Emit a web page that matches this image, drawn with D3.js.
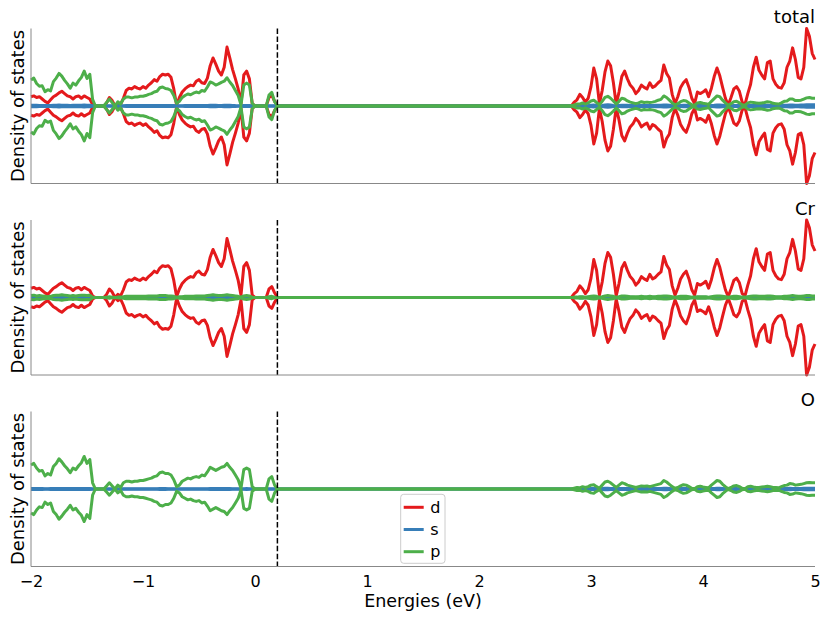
<!DOCTYPE html>
<html>
<head>
<meta charset="utf-8">
<script src="https://cdn.jsdelivr.net/npm/d3@7"></script>
<style>
body { margin: 0; background: #fff; }
svg { font-family: "DejaVu Sans", sans-serif; }
</style>
</head>
<body>
<div id="chart"></div>
<script>

// Energy grid (eV), valence band side and conduction band side.
const energyLeft = [
	-2.000,-1.975,-1.950,-1.925,-1.900,-1.875,-1.850,-1.825,-1.800,-1.775,
	-1.750,-1.725,-1.700,-1.675,-1.650,-1.625,-1.600,-1.575,-1.550,-1.525,
	-1.500,-1.475,-1.450,-1.425,-1.400,-1.375,-1.350,-1.325,-1.300,-1.275,
	-1.250,-1.225,-1.200,-1.175,-1.150,-1.125,-1.100,-1.075,-1.050,-1.025,
	-1.000,-0.975,-0.950,-0.925,-0.900,-0.875,-0.850,-0.825,-0.800,-0.775,
	-0.750,-0.725,-0.700,-0.675,-0.650,-0.625,-0.600,-0.575,-0.550,-0.525,
	-0.500,-0.475,-0.450,-0.425,-0.400,-0.375,-0.350,-0.325,-0.300,-0.275,
	-0.250,-0.225,-0.200,-0.175,-0.150,-0.125,-0.100,-0.075,-0.050,-0.025,
	0.000,0.025,0.050,0.075,0.100,0.125,0.150,0.175,0.200,0.225,0.250];
const energyRight = [
	2.825,2.850,2.875,2.900,2.925,2.950,2.975,
	3.000,3.025,3.050,3.075,3.100,3.125,3.150,3.175,3.200,3.225,
	3.250,3.275,3.300,3.325,3.350,3.375,3.400,3.425,3.450,3.475,
	3.500,3.525,3.550,3.575,3.600,3.625,3.650,3.675,3.700,3.725,
	3.750,3.775,3.800,3.825,3.850,3.875,3.900,3.925,3.950,3.975,
	4.000,4.025,4.050,4.075,4.100,4.125,4.150,4.175,4.200,4.225,
	4.250,4.275,4.300,4.325,4.350,4.375,4.400,4.425,4.450,4.475,
	4.500,4.525,4.550,4.575,4.600,4.625,4.650,4.675,4.700,4.725,
	4.750,4.775,4.800,4.825,4.850,4.875,4.900,4.925,4.950,4.975,
	5.000];

// Cr d states
const dCrLeft = [
	1.2,1.3,1.1,1.2,0.9,0.6,0.4,0.8,1.2,1.4,
	1.7,1.9,1.6,1.3,1.2,0.9,1.2,1.3,1.0,1.3,
	1.1,0.9,0.2,0,0,0,0,0.4,1.1,0.7,
	0,0.4,0.2,1.0,2.0,2.3,2.2,2.5,2.3,2.2,
	2.5,2.3,2.7,3.0,3.4,3.2,3.8,4.1,4.0,4.1,
	3.7,2.2,0.1,1.1,1.8,2.2,2.5,2.7,2.6,3.2,
	3.4,3.0,2.9,3.6,5.2,6.2,5.4,4.5,4.0,5.0,
	7.6,6.2,4.7,3.5,2.2,0.3,4.0,4.5,3.5,0.3,
	0,0,0,0,0,1.1,1.4,0.6,0,0,0];
const dCrRight = [
	0,0.5,0.8,1.5,1.1,0.5,1.0,
	2.5,4.9,3.5,0.3,2.0,4.4,5.8,5.2,3.0,0.2,
	1.8,3.8,4.5,3.5,2.7,2.3,1.6,2.0,2.7,2.4,
	2.2,3.0,2.4,2.6,3.0,3.3,5.3,4.2,3.6,1.5,
	0.3,1.2,2.4,3.0,3.4,2.4,1.0,0.3,1.8,1.6,
	1.8,2.1,1.2,2.3,3.8,4.9,3.9,2.4,1.0,0.1,
	1.1,2.2,2.5,1.9,0.5,0.2,1.6,2.8,5.0,6.3,
	4.6,4.0,3.5,5.6,5.8,3.5,2.8,2.4,2.3,3.0,
	5.0,5.8,7.5,6.0,3.7,3.5,5.0,10.0,9.0,6.8,
	6.0];

// O p states
const pOLeft = [
	3.1,3.3,2.7,2.3,2.4,1.7,2.0,1.8,2.9,3.3,
	3.9,3.5,3.0,2.6,2.1,2.7,2.5,3.0,3.4,4.2,
	3.3,3.8,0.8,0,0,0,0,0.4,0.8,0.4,
	0,0.5,0.2,0.8,1.0,1.0,0.9,1.0,1.0,1.1,
	1.1,1.2,1.3,1.4,1.6,1.7,2.1,2.2,2.0,2.0,
	1.8,1.2,0.3,0.5,1.0,1.2,1.4,1.3,1.5,1.6,
	1.5,1.8,1.7,2.2,2.8,2.6,2.4,2.6,2.8,2.9,
	3.3,2.8,2.4,1.8,1.2,0.1,2.5,2.7,2.5,0.3,
	0,0,0,0,0,1.3,1.6,0.5,0,0,0];
const pORight = [
	0,0.1,0.2,0.15,0.3,0.2,0.3,
	0.5,0.55,0.3,0.1,0.5,0.9,1.0,0.8,0.5,0.2,
	0.5,0.8,0.7,0.5,0.4,0.3,0.2,0.3,0.4,0.35,
	0.4,0.3,0.4,0.5,0.6,0.7,1.1,0.9,0.6,0.3,
	0.1,0.2,0.4,0.55,0.5,0.3,0.1,0.05,0.3,0.35,
	0.25,0.2,0.15,0.5,0.8,1.1,1.0,0.6,0.3,0.05,
	0.2,0.4,0.45,0.3,0.1,0.05,0.3,0.35,0.25,0.2,
	0.2,0.25,0.3,0.35,0.3,0.2,0.2,0.15,0.3,0.45,
	0.5,0.7,0.65,0.5,0.55,0.6,0.7,0.8,0.85,0.8,
	0.8];

// Cr p states
const pCrLeft = [
	0.25,0.3,0.2,0.25,0.2,0.15,0.1,0.15,0.25,0.3,
	0.3,0.35,0.3,0.25,0.2,0.25,0.2,0.25,0.3,0.3,
	0.25,0.3,0.05,0,0,0,0,0.05,0.1,0.05,
	0,0.05,0.05,0.1,0.15,0.15,0.15,0.15,0.15,0.15,
	0.15,0.15,0.2,0.2,0.2,0.2,0.25,0.25,0.25,0.2,
	0.2,0.15,0.05,0.1,0.1,0.15,0.15,0.15,0.15,0.2,
	0.2,0.2,0.2,0.25,0.3,0.35,0.3,0.25,0.25,0.3,
	0.35,0.3,0.25,0.2,0.15,0.05,0.2,0.25,0.2,0.05,
	0,0,0,0,0,0.1,0.15,0.05,0,0,0];
const pCrRight = [
	0,0.05,0.05,0.1,0.1,0.05,0.1,
	0.15,0.2,0.15,0.05,0.1,0.2,0.25,0.2,0.15,0.05,
	0.1,0.2,0.2,0.15,0.1,0.1,0.1,0.1,0.15,0.1,
	0.1,0.15,0.1,0.1,0.15,0.15,0.2,0.2,0.15,0.1,
	0.05,0.1,0.15,0.15,0.15,0.1,0.05,0.05,0.1,0.1,
	0.1,0.1,0.05,0.1,0.15,0.2,0.2,0.15,0.1,0.05,
	0.1,0.15,0.15,0.1,0.05,0.05,0.1,0.15,0.2,0.2,
	0.15,0.15,0.15,0.2,0.2,0.15,0.1,0.1,0.1,0.15,
	0.15,0.2,0.25,0.2,0.15,0.15,0.2,0.25,0.25,0.2,
	0.2];

// O s states
const sOLeft = [
	0.06,0.07,0.06,0.05,0.05,0.04,0.04,0.05,0.06,0.07,
	0.08,0.07,0.06,0.06,0.05,0.06,0.06,0.07,0.07,0.08,
	0.07,0.07,0.02,0,0,0,0,0.01,0.02,0.01,
	0,0.01,0.01,0.02,0.03,0.03,0.03,0.03,0.03,0.03,
	0.03,0.03,0.04,0.04,0.04,0.04,0.05,0.05,0.05,0.04,
	0.04,0.03,0.01,0.02,0.02,0.03,0.03,0.03,0.03,0.03,
	0.03,0.04,0.04,0.04,0.05,0.05,0.05,0.05,0.05,0.05,
	0.06,0.05,0.04,0.03,0.02,0.01,0.04,0.05,0.04,0.01,
	0,0,0,0,0,0.02,0.03,0.01,0,0,0];
const sORight = [
	0,0.01,0.02,0.02,0.04,0.03,0.04,
	0.06,0.08,0.05,0.02,0.05,0.09,0.1,0.08,0.05,0.02,
	0.05,0.08,0.07,0.06,0.05,0.04,0.03,0.04,0.05,0.05,
	0.05,0.04,0.05,0.06,0.07,0.07,0.1,0.09,0.06,0.03,
	0.01,0.03,0.05,0.06,0.06,0.04,0.01,0.01,0.04,0.05,
	0.04,0.03,0.02,0.05,0.07,0.1,0.1,0.07,0.04,0.01,
	0.03,0.05,0.05,0.04,0.01,0.01,0.04,0.05,0.04,0.03,
	0.03,0.04,0.05,0.06,0.05,0.04,0.03,0.03,0.04,0.06,
	0.07,0.09,0.08,0.07,0.07,0.08,0.09,0.1,0.1,0.1,
	0.1];

// Cr s states
const sCrLeft = [
	0.03,0.03,0.03,0.02,0.02,0.02,0.02,0.02,0.03,0.03,
	0.04,0.04,0.03,0.03,0.03,0.03,0.03,0.03,0.03,0.04,
	0.03,0.03,0.01,0,0,0,0,0.01,0.01,0.01,
	0,0.01,0.01,0.01,0.02,0.02,0.02,0.02,0.02,0.02,
	0.02,0.02,0.02,0.02,0.03,0.03,0.03,0.03,0.03,0.03,
	0.03,0.02,0.01,0.01,0.02,0.02,0.02,0.02,0.02,0.02,
	0.02,0.02,0.02,0.03,0.04,0.04,0.04,0.03,0.03,0.04,
	0.04,0.04,0.03,0.02,0.02,0.01,0.03,0.03,0.03,0.01,
	0,0,0,0,0,0.01,0.01,0.01,0,0,0];
const sCrRight = [
	0,0.01,0.01,0.02,0.02,0.01,0.02,
	0.03,0.04,0.03,0.01,0.02,0.04,0.05,0.04,0.02,0.01,
	0.02,0.03,0.04,0.03,0.02,0.02,0.01,0.02,0.02,0.02,
	0.02,0.02,0.02,0.03,0.03,0.03,0.04,0.04,0.03,0.01,
	0.01,0.01,0.02,0.03,0.03,0.02,0.01,0.01,0.02,0.02,
	0.02,0.02,0.01,0.02,0.03,0.04,0.04,0.03,0.02,0.01,
	0.01,0.02,0.03,0.02,0.01,0.01,0.02,0.02,0.02,0.02,
	0.02,0.02,0.02,0.03,0.03,0.02,0.02,0.02,0.02,0.03,
	0.03,0.04,0.04,0.04,0.03,0.04,0.04,0.05,0.05,0.05,
	0.05];

const efermi = 0.2;
const xTicks = [-2, -1, 0, 1, 2, 3, 4, 5];
const orbitals = ["d", "s", "p"];
const colors = { d: "#e41a1c", s: "#377eb8", p: "#4daf4a" };


// Join both sides of the gap.
const energies = energyLeft.concat(energyRight),
	dCr = dCrLeft.concat(dCrRight),
	pO = pOLeft.concat(pORight),
	pCr = pCrLeft.concat(pCrRight),
	sO = sOLeft.concat(sORight),
	sCr = sCrLeft.concat(sCrRight);

// total = sum over both species
const addUp = (a, b) => a.map((v, i) => v + b[i]);

const panels = [
	{ name: "total", proj: { d: dCr, s: addUp(sO, sCr), p: addUp(pO, pCr) } },
	{ name: "Cr", proj: { d: dCr, s: sCr, p: pCr } },
	{ name: "O", proj: { s: sO, p: pO } }
];


// Dimensions
const W = 830, H = 624;
const left = 31, right = 815,
	panelTops = [28.5, 220, 411.5],
	panelH = 155;

const svg = d3.select("#chart").append("svg")
	.attr("width", W)
	.attr("height", H);

const x = d3.scaleLinear()
	.domain([-2, 5])
	.range([left, right]);

const line = d3.line()
	.x(d => x(d[0]))
	.y(d => d[1]);

panels.forEach(function(panel, k) {
	const top = panelTops[k];
	const y = d3.scaleLinear()
		.domain([-10, 10])
		.range([top + panelH, top]);

	const g = svg.append("g");

	// curves, spin up above and spin down mirrored below
	orbitals.forEach(function(orb) {
		const vals = panel.proj[orb];
		if (!vals) return;
		[1, -1].forEach(function(sign) {
			g.append("path")
				.datum(energies.map((e, i) => [e, y(sign * vals[i])]))
				.attr("fill", "none")
				.attr("stroke", colors[orb])
				.attr("stroke-width", 3)
				.attr("stroke-linejoin", "round")
				.attr("d", line);
		});
	});

	// Fermi level
	g.append("line")
		.attr("x1", x(efermi)).attr("x2", x(efermi))
		.attr("y1", top).attr("y2", top + panelH)
		.attr("stroke", "#000")
		.attr("stroke-width", 1.5)
		.attr("stroke-dasharray", "5.5,2.4");

	// spines
	g.append("line")
		.attr("x1", left).attr("x2", left)
		.attr("y1", top).attr("y2", top + panelH)
		.attr("stroke", "#888").attr("stroke-width", 1);
	g.append("line")
		.attr("x1", left).attr("x2", right)
		.attr("y1", top + panelH).attr("y2", top + panelH)
		.attr("stroke", "#888").attr("stroke-width", 1);

	// panel title
	g.append("text")
		.attr("x", right)
		.attr("y", top - 5.5)
		.attr("text-anchor", "end")
		.style("font-size", "18px")
		.text(panel.name);

	// y label
	g.append("text")
		.attr("transform", "translate(24," + (top + panelH / 2) + ") rotate(-90)")
		.attr("text-anchor", "middle")
		.style("font-size", "18px")
		.text("Density of states");
});


// x-axis on the bottom panel only
const xAxis = d3.axisBottom(x)
	.tickValues(xTicks)
	.tickFormat(d => d < 0 ? "\u2212" + Math.abs(d) : d)
	.tickSize(0)
	.tickPadding(9.5);
const axisG = svg.append("g")
	.attr("transform", "translate(0," + (panelTops[2] + panelH) + ")")
	.call(xAxis);
axisG.select(".domain").remove();
axisG.selectAll("text")
	.attr("font-family", "DejaVu Sans")
	.attr("font-size", 16)
	.attr("fill", "#000");

svg.append("text")
	.attr("x", (left + right) / 2)
	.attr("y", 607)
	.attr("text-anchor", "middle")
	.style("font-size", "17.5px")
	.text("Energies (eV)");


// Legend
const legend = svg.append("g")
	.attr("transform", "translate(400.7,494.3)");
legend.append("rect")
	.attr("width", 44.3).attr("height", 69)
	.attr("rx", 3)
	.attr("fill", "#fff").attr("fill-opacity", 0.8)
	.attr("stroke", "#ccc").attr("stroke-width", 1);
orbitals.forEach(function(orb, i) {
	const ly = 13 + i * 22.2;
	legend.append("line")
		.attr("x1", 3).attr("x2", 23)
		.attr("y1", ly).attr("y2", ly)
		.attr("stroke", colors[orb])
		.attr("stroke-width", 3);
	legend.append("text")
		.attr("x", 29.5)
		.attr("y", ly + 5.5)
		.style("font-size", "16px")
		.text(orb);
});

</script>
</body>
</html>
